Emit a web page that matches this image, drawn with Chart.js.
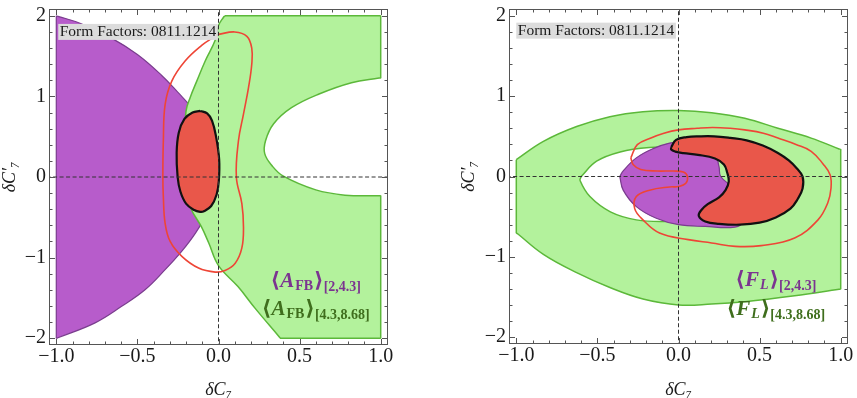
<!DOCTYPE html>
<html>
<head>
<meta charset="utf-8">
<script src="https://cdn.jsdelivr.net/npm/chart.js@4.4.1/dist/chart.umd.min.js"></script>
<style>
  html, body { margin: 0; padding: 0; background: #fff; }
  #wrap { position: relative; width: 857px; height: 398px; overflow: hidden; }
  canvas { position: absolute; top: 0; }
  #afbChart { left: 0; }
  #flChart { left: 428px; }
</style>
</head>
<body>
<div id="wrap">
  <canvas id="afbChart" width="430" height="398"></canvas>
  <canvas id="flChart" width="440" height="398"></canvas>
</div>
<script>
// --- DATA: tick positions & labels ---
const xTickVals = [-1, -0.5, 0, 0.5, 1];
const xTickText = ['\u22121.0', '\u22120.5', '0.0', '0.5', '1.0'];
const yTickVals = [-2, -1, 0, 1, 2];
const yTickText = ['\u22122', '\u22121', '0', '1', '2'];
const xMinor = [-0.9, -0.8, -0.7, -0.6, -0.4, -0.3, -0.2, -0.1, 0.1, 0.2, 0.3, 0.4, 0.6, 0.7, 0.8, 0.9];
const yMinor = [-1.8, -1.6, -1.4, -1.2, -0.8, -0.6, -0.4, -0.2, 0.2, 0.4, 0.6, 0.8, 1.2, 1.4, 1.6, 1.8];

const boxText = 'Form Factors: 0811.1214';
const binText = ['[2,4.3]', '[4.3,8.68]'];

// zero reference lines
const vZero = [[0, -2.2], [0, 2.2]];
const hZero = [[-1.1, 0], [1.1, 0]];

// --- DATA: left panel, <A_FB> contours (dC7, dC7') ---
const afbPurple = [
  [-1.0, 2.0], [-0.99, 1.994], [-0.85, 1.905], [-0.665, 1.73], [-0.50, 1.52], [-0.35, 1.26],
  [-0.25, 1.05], [-0.17, 0.87], [-0.10, 0.65], [-0.07, 0.35], [-0.06, 0.0], [-0.065, -0.3],
  [-0.085, -0.49], [-0.14, -0.69], [-0.226, -0.92], [-0.329, -1.15], [-0.453, -1.40],
  [-0.597, -1.605], [-0.761, -1.81], [-0.99, -1.995], [-1.0, -2.0], [-1.0, -1.99],
  [-1.0, 1.99], [-1.0, 2.0]
];
const afbGreen = [
  [0.04, 2.0], [0.05, 2.0], [0.99, 2.0], [1.0, 2.0], [1.0, 1.99], [1.0, 1.24], [1.0, 1.232],
  [0.99, 1.229], [0.82, 1.17], [0.62, 1.03], [0.45, 0.86], [0.34, 0.66], [0.29, 0.45],
  [0.285, 0.29], [0.33, 0.14], [0.40, 0.01], [0.60, -0.16], [0.78, -0.225], [0.99, -0.234],
  [1.0, -0.234], [1.0, -0.245], [1.0, -1.99], [1.0, -2.0], [0.99, -2.0], [0.39, -2.0],
  [0.381, -2.0], [0.375, -1.985], [0.23, -1.64], [0.12, -1.36], [0.0, -1.10], [-0.06, -0.82],
  [-0.105, -0.62], [-0.17, -0.39], [-0.21, -0.1], [-0.22, 0.3], [-0.20, 0.82], [-0.175, 0.985],
  [-0.134, 1.19], [-0.082, 1.44], [-0.02, 1.70], [0.0, 1.88], [0.03, 1.98], [0.04, 2.0]
];
const afbRedLine = [
  [0.0, 1.77], [0.10, 1.80], [0.175, 1.745], [0.205, 1.60], [0.205, 1.40], [0.185, 1.11],
  [0.154, 0.78], [0.123, 0.45], [0.11, 0.0], [0.144, -0.33], [0.154, -0.62], [0.144, -0.88],
  [0.103, -1.07], [0.04, -1.16], [-0.02, -1.18], [-0.123, -1.13], [-0.226, -0.985],
  [-0.298, -0.80], [-0.329, -0.575], [-0.34, -0.25], [-0.343, 0.0], [-0.34, 0.45],
  [-0.329, 0.90], [-0.288, 1.19], [-0.206, 1.44], [-0.10, 1.64], [-0.041, 1.72], [0.0, 1.77]
];
const afbRedFill = [
  [-0.113, 0.82], [-0.07, 0.79], [-0.04, 0.70], [-0.015, 0.50], [0.004, 0.22], [0.002, -0.05],
  [-0.012, -0.22], [-0.045, -0.36], [-0.09, -0.425], [-0.113, -0.432], [-0.15, -0.41],
  [-0.20, -0.33], [-0.235, -0.18], [-0.252, 0.0], [-0.258, 0.3], [-0.245, 0.55],
  [-0.21, 0.72], [-0.16, 0.80], [-0.113, 0.82]
];

// --- DATA: right panel, <F_L> contours ---
const flGreen = [
  [-1.0, 0.21], [-0.833, 0.437], [-0.628, 0.622], [-0.423, 0.745], [-0.219, 0.807],
  [0.0, 0.822], [0.204, 0.794], [0.409, 0.724], [0.613, 0.601], [0.818, 0.478],
  [0.99, 0.343], [1.0, 0.335], [1.0, 0.32], [1.0, -1.39], [1.0, -1.40], [0.99, -1.403],
  [0.716, -1.484], [0.409, -1.558], [0.204, -1.588], [0.0, -1.599], [-0.219, -1.525],
  [-0.423, -1.382], [-0.628, -1.197], [-0.833, -0.97], [-0.99, -0.716], [-1.0, -0.70],
  [-1.0, -0.69], [-1.0, 0.20], [-1.0, 0.21]
];
const flHole = [
  [-0.60, 0.0], [-0.505, 0.19], [-0.36, 0.305], [-0.18, 0.36], [0.0, 0.365], [0.14, 0.30],
  [0.22, 0.17], [0.24, 0.0], [0.22, -0.2], [0.16, -0.40], [0.05, -0.53], [-0.075, -0.56],
  [-0.26, -0.54], [-0.42, -0.44], [-0.546, -0.25], [-0.607, -0.05], [-0.60, 0.0]
];
const flPurple = [
  [-0.362, 0.0], [-0.341, 0.07], [-0.26, 0.232], [-0.157, 0.347], [-0.055, 0.416],
  [0.05, 0.44], [0.15, 0.42], [0.22, 0.32], [0.25, 0.12], [0.26, 0.0], [0.34, -0.15],
  [0.40, -0.35], [0.40, -0.55], [0.348, -0.63], [0.164, -0.622], [0.0, -0.60],
  [-0.137, -0.52], [-0.26, -0.375], [-0.341, -0.17], [-0.362, 0.0]
];
const flRedLine = [
  [-0.294, 0.232], [-0.254, 0.396], [-0.17, 0.48], [-0.09, 0.539], [0.0, 0.58], [0.115, 0.60],
  [0.21, 0.61], [0.319, 0.60], [0.409, 0.58], [0.523, 0.539], [0.613, 0.478], [0.728, 0.396],
  [0.818, 0.314], [0.89, 0.16], [0.935, 0.02], [0.94, -0.15], [0.92, -0.33], [0.86, -0.54],
  [0.716, -0.766], [0.51, -0.86], [0.35, -0.87], [0.204, -0.827], [0.06, -0.786],
  [-0.117, -0.704], [-0.219, -0.54], [-0.27, -0.40], [-0.26, -0.25], [-0.178, -0.17],
  [-0.055, -0.13], [0.0, -0.125], [0.045, -0.085], [0.055, 0.0], [0.03, 0.055], [-0.03, 0.068],
  [-0.131, 0.068], [-0.233, 0.088], [-0.28, 0.15], [-0.294, 0.232]
];
const flRedFill = [
  [-0.045, 0.365], [-0.015, 0.455], [0.05, 0.49], [0.13, 0.50], [0.22, 0.50], [0.32, 0.48],
  [0.42, 0.45], [0.52, 0.385], [0.613, 0.293], [0.68, 0.20], [0.73, 0.10], [0.765, 0.0],
  [0.765, -0.15], [0.735, -0.28], [0.69, -0.40], [0.60, -0.51], [0.50, -0.575], [0.38, -0.60],
  [0.25, -0.59], [0.165, -0.56], [0.125, -0.49], [0.14, -0.42], [0.18, -0.345], [0.25, -0.26],
  [0.29, -0.17], [0.31, -0.06], [0.30, 0.05], [0.28, 0.15], [0.225, 0.225], [0.12, 0.27],
  [0.03, 0.29], [-0.02, 0.31], [-0.045, 0.335], [-0.045, 0.365]
];

// --- STYLE ---
const serif = "'Liberation Serif', 'DejaVu Serif', serif";
const col = {
  purpleFill: '#b75ccb', purpleLine: '#7a3d8e',
  greenFill: '#b3f29c', greenLine: '#5cb83a',
  redFill: '#e9574a', redLine: '#ee4536',
  purpleText: '#7b3490', greenText: '#3f6e1d',
  frame: '#555'
};

const pts = arr => arr.map(([x, y]) => ({ x, y }));

function region(data, fillColor, lineColor, width, order) {
  return {
    data: pts(data),
    borderColor: lineColor,
    backgroundColor: fillColor || 'transparent',
    borderWidth: width,
    fill: fillColor ? 'shape' : false,
    tension: 0.4,
    pointRadius: 0,
    pointHoverRadius: 0,
    order: order
  };
}

function dashed(data) {
  return {
    data: pts(data), borderColor: '#333', borderWidth: 1, borderDash: [4, 2.5],
    fill: false, tension: 0, pointRadius: 0, order: 0
  };
}

// frame with inward ticks on all four sides + annotation texts
const panelDeco = {
  id: 'panelDeco',
  afterDatasetsDraw(chart, args, opts) {
    const { ctx, scales: { x, y } } = chart;
    ctx.save();
    // "Form Factors" box
    ctx.font = `15.5px ${serif}`;
    const w = ctx.measureText(boxText).width;
    const bx = x.getPixelForValue(opts.box[0]);
    const by = y.getPixelForValue(opts.box[1]);
    ctx.fillStyle = '#dcdcdc';
    ctx.fillRect(bx, by, w + 3, 16);
    ctx.fillStyle = '#1a1a1a';
    ctx.textBaseline = 'alphabetic';
    ctx.textAlign = 'left';
    ctx.fillText(boxText, bx + 1.5, by + 12.5);

    // legend-like labels
    opts.labels.forEach(lab => {
      let total = 0;
      lab.parts.forEach(p => { ctx.font = `${p[2]} ${p[1]}px ${serif}`; total += ctx.measureText(p[0]).width + (p[4] || 0); });
      let px = x.getPixelForValue(lab.x) - total / 2;
      const py = y.getPixelForValue(lab.y);
      ctx.fillStyle = lab.color;
      lab.parts.forEach(p => {
        ctx.font = `${p[2]} ${p[1]}px ${serif}`;
        ctx.fillText(p[0], px, py + p[3]);
        px += ctx.measureText(p[0]).width + (p[4] || 0);
      });
    });
    ctx.restore();
  },
  afterDraw(chart) {
    const { ctx, chartArea: a, scales: { x, y } } = chart;
    ctx.save();
    ctx.strokeStyle = col.frame;
    ctx.lineWidth = 1;
    ctx.strokeRect(a.left + 0.5, a.top + 0.5, a.right - a.left - 1, a.bottom - a.top - 1);
    ctx.beginPath();
    const vt = (v, len) => {
      const p = Math.round(x.getPixelForValue(v)) + 0.5;
      ctx.moveTo(p, a.bottom); ctx.lineTo(p, a.bottom - len);
      ctx.moveTo(p, a.top); ctx.lineTo(p, a.top + len);
    };
    const ht = (v, len) => {
      const p = Math.round(y.getPixelForValue(v)) + 0.5;
      ctx.moveTo(a.left, p); ctx.lineTo(a.left + len, p);
      ctx.moveTo(a.right, p); ctx.lineTo(a.right - len, p);
    };
    xTickVals.forEach(v => vt(v, 6));
    xMinor.forEach(v => vt(v, 3.5));
    yTickVals.forEach(v => ht(v, 6));
    yMinor.forEach(v => ht(v, 3.5));
    ctx.stroke();
    ctx.restore();
  }
};

function makeOptions(cfg) {
  return {
    responsive: false,
    animation: false,
    events: [],
    indexAxis: 'y',
    layout: { padding: cfg.pad },
    scales: {
      x: {
        type: 'linear', position: 'bottom', min: -1.045, max: 1.045,
        afterBuildTicks: s => { s.ticks = xTickVals.map(v => ({ value: v })); },
        afterFit: s => { s.height = cfg.xHeight; },
        grid: { display: false, drawTicks: false },
        border: { display: false },
        ticks: {
          autoSkip: false, maxRotation: 0, padding: 2, color: '#1a1a1a',
          font: { family: serif, size: 20, lineHeight: 1 },
          callback: v => xTickText[xTickVals.indexOf(v)]
        },
        title: {
          display: true, text: '\u03b4C\u2087', color: '#1a1a1a',
          font: { family: serif, size: 18, style: 'italic' }, padding: { top: 0, bottom: -3 }
        }
      },
      y: {
        type: 'linear', position: 'left', min: -2.085, max: 2.085,
        afterBuildTicks: s => { s.ticks = yTickVals.map(v => ({ value: v })); },
        afterFit: s => { s.width = cfg.yWidth; },
        grid: { display: false, drawTicks: false },
        border: { display: false },
        ticks: {
          autoSkip: false, padding: 3, color: '#1a1a1a',
          font: { family: serif, size: 20, lineHeight: 0.6 },
          callback: v => yTickText[yTickVals.indexOf(v)]
        },
        title: {
          display: true, text: '\u03b4C\u2032\u2087', color: '#1a1a1a',
          font: { family: serif, size: 18, style: 'italic' }, padding: { top: -1, bottom: 0 }
        }
      }
    },
    plugins: {
      legend: { display: false },
      tooltip: { enabled: false },
      panelDeco: { box: cfg.box, labels: cfg.labels }
    }
  };
}

// --- LEFT: <A_FB> ---
new Chart(document.getElementById('afbChart'), {
  type: 'line',
  data: {
    datasets: [
      region(afbPurple, col.purpleFill, col.purpleLine, 1.2, 5),
      region(afbGreen, col.greenFill, col.greenLine, 1.5, 4),
      region(afbRedLine, null, col.redLine, 1.6, 3),
      region(afbRedFill, col.redFill, '#111', 2.2, 2),
      dashed(vZero),
      dashed(hZero)
    ]
  },
  options: makeOptions({
    pad: { left: 0, right: 42, top: 6, bottom: 0 },
    yWidth: 49, xHeight: 53,
    box: [-0.988, 1.9],
    labels: [
      { x: 0.60, y: -1.36, color: col.purpleText, parts: [
        ['\u27e8', 21, 'bold', 0], ['A', 21, 'italic bold', 0, 1], ['FB', 14, 'bold', 3, 1],
        ['\u27e9', 21, 'bold', 0], [binText[0], 14, 'bold', 4]] },
      { x: 0.60, y: -1.71, color: col.greenText, parts: [
        ['\u27e8', 21, 'bold', 0], ['A', 21, 'italic bold', 0, 1], ['FB', 14, 'bold', 3, 1],
        ['\u27e9', 21, 'bold', 0], [binText[1], 14, 'bold', 4]] }
    ]
  }),
  plugins: [panelDeco]
});

// --- RIGHT: <F_L> ---
new Chart(document.getElementById('flChart'), {
  type: 'line',
  data: {
    datasets: [
      region(flGreen, col.greenFill, col.greenLine, 1.5, 7),
      region(flHole, '#ffffff', col.greenLine, 1.5, 6),
      region(flPurple, col.purpleFill, col.purpleLine, 1.2, 5),
      region(flRedLine, null, col.redLine, 1.6, 3),
      region(flRedFill, col.redFill, '#111', 2.2, 2),
      dashed(vZero),
      dashed(hZero)
    ]
  },
  options: makeOptions({
    pad: { left: 31, right: 20, top: 5, bottom: 0 },
    yWidth: 50, xHeight: 54,
    box: [-1.0, 1.915],
    labels: [
      { x: 0.60, y: -1.36, color: col.purpleText, parts: [
        ['\u27e8', 21, 'bold', 0], ['F', 21, 'italic bold', 0, 1], ['L', 14, 'italic bold', 3, 1],
        ['\u27e9', 21, 'bold', 0], [binText[0], 14, 'bold', 4]] },
      { x: 0.60, y: -1.72, color: col.greenText, parts: [
        ['\u27e8', 21, 'bold', 0], ['F', 21, 'italic bold', 0, 1], ['L', 14, 'italic bold', 3, 1],
        ['\u27e9', 21, 'bold', 0], [binText[1], 14, 'bold', 4]] }
    ]
  }),
  plugins: [panelDeco]
});
</script>
</body>
</html>
